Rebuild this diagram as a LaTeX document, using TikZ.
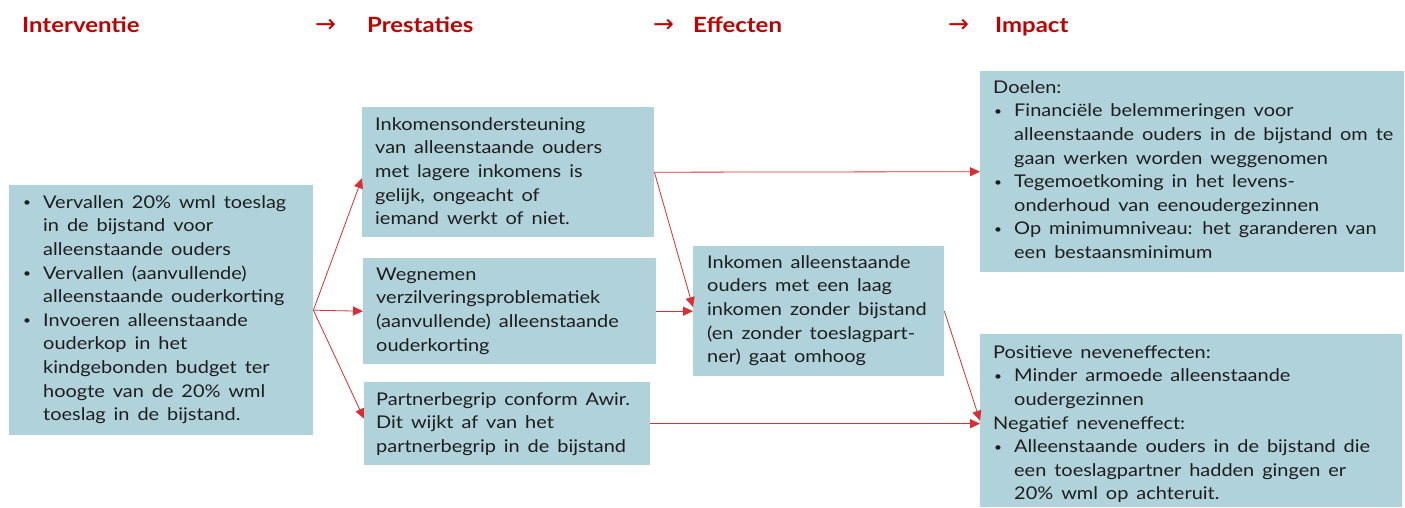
\documentclass[tikz,border=0pt]{standalone}
\usepackage{fontspec}
\setmainfont[FakeStretch=1.14,WordSpace=1.55]{Lato}
\newfontfamily\arrowfont{DejaVu Sans}
\usetikzlibrary{arrows.meta}
\definecolor{boxfill}{RGB}{176,210,218}
\definecolor{hdr}{RGB}{192,0,0}
\definecolor{arr}{RGB}{220,45,50}
\definecolor{txt}{RGB}{30,30,30}
\newcommand{\bul}[1]{\makebox[21pt][l]{\hspace*{1pt}\raisebox{1.5pt}{\fontsize{12}{12}\selectfont•}}#1}
\newcommand{\ind}{\hspace*{21pt}}
\begin{document}
\begin{tikzpicture}[x=1pt,y=-1pt,
  box/.style={fill=boxfill, draw=none, inner sep=0pt, anchor=north west},
  body/.style={anchor=north west, inner sep=0pt, align=left, font=\fontsize{17.5}{23.6}\selectfont, text=txt},
  hdrtext/.style={anchor=base west, inner sep=0pt, font=\fontsize{21}{24}\selectfont\bfseries, text=hdr},
  hdrarrow/.style={anchor=base west, inner sep=0pt, font=\arrowfont\fontsize{25}{28}\selectfont, text=hdr},
  conn/.style={draw=arr, line width=0.8pt, -{Triangle[length=10pt,width=9pt]}}]
\useasboundingbox (0,0) rectangle (1405,507);

% headers
\node[hdrtext] (h1) at (22,32) {Interventie};
\node[hdrarrow] (a1) at (315,32) {→};
\node[hdrtext] (h2) at (367,32) {Prestaties};
\node[hdrarrow] (a2) at (653,32) {→};
\node[hdrtext] (h3) at (693,32) {Effecten};
\node[hdrarrow] (a3) at (948,32) {→};
\node[hdrtext] (h4) at (995,32) {Impact};

% boxes
\node[box, minimum width=304pt, minimum height=250pt] (A) at (9,185) {};
\node[box, minimum width=292pt, minimum height=130pt] (P1) at (362,107) {};
\node[box, minimum width=293pt, minimum height=106pt] (P2) at (363,258) {};
\node[box, minimum width=286pt, minimum height=83pt] (P3) at (364,382) {};
\node[box, minimum width=251pt, minimum height=130pt] (E) at (693,246) {};
\node[box, minimum width=424pt, minimum height=201pt] (I1) at (980,71) {};
\node[box, minimum width=422pt, minimum height=173pt] (I2) at (980,334) {};

% texts
\node[body] (tA) at (22,191.5) {\strut\bul{Vervallen 20\% wml toeslag}\\
\ind in de bijstand voor\\
\ind alleenstaande ouders\\
\bul{Vervallen (aanvullende)}\\
\ind alleenstaande ouderkorting\\
\bul{Invoeren alleenstaande}\\
\ind ouderkop in het\\
\ind kindgebonden budget ter\\
\ind hoogte van de 20\% wml\\
\ind toeslag in de bijstand.};

\node[body] (tP1) at (375,113.5) {\strut Inkomensondersteuning\\
van alleenstaande ouders\\
met lagere inkomens is\\
gelijk, ongeacht of\\
iemand werkt of niet.};

\node[body] (tP2) at (376,263.5) {\strut Wegnemen\\
verzilveringsproblematiek\\
(aanvullende) alleenstaande\\
ouderkorting};

\node[body] (tP3) at (376,388.5) {\strut Partnerbegrip conform Awir.\\
Dit wijkt af van het\\
partnerbegrip in de bijstand};

\node[body] (tE) at (707,251.5) {\strut Inkomen alleenstaande\\
ouders met een laag\\
inkomen zonder bijstand\\
(en zonder toeslagpart-\\
ner) gaat omhoog};

\node[body] (tI1) at (993,76.5) {\strut Doelen:\\
\bul{Financiële belemmeringen voor}\\
\ind alleenstaande ouders in de bijstand om te\\
\ind gaan werken worden weggenomen\\
\bul{Tegemoetkoming in het levens-}\\
\ind onderhoud van eenoudergezinnen\\
\bul{Op minimumniveau: het garanderen van}\\
\ind een bestaansminimum};

\node[body] (tI2) at (993,341.5) {\strut Positieve neveneffecten:\\
\bul{Minder armoede alleenstaande}\\
\ind oudergezinnen\\
Negatief neveneffect:\\
\bul{Alleenstaande ouders in de bijstand die}\\
\ind een toeslagpartner hadden gingen er\\
\ind 20\% wml op achteruit.};

% connectors
\draw[conn] (A.east) -- ([yshift=-6pt]P1.west);
\draw[conn] (A.east) -- (P2.west);
\draw[conn] (A.east) -- ([yshift=5pt]P3.west);
\draw[conn] (P1.east) -- (I1.west);
\draw[conn] (P1.east) -- ([yshift=4pt]E.west);
\draw[conn] (P2.east) -- (E.west);
\draw[conn] (E.east) -- (I2.west);
\draw[conn] (P3.east) -- (P3.east -| I2.west);
\end{tikzpicture}
\end{document}
